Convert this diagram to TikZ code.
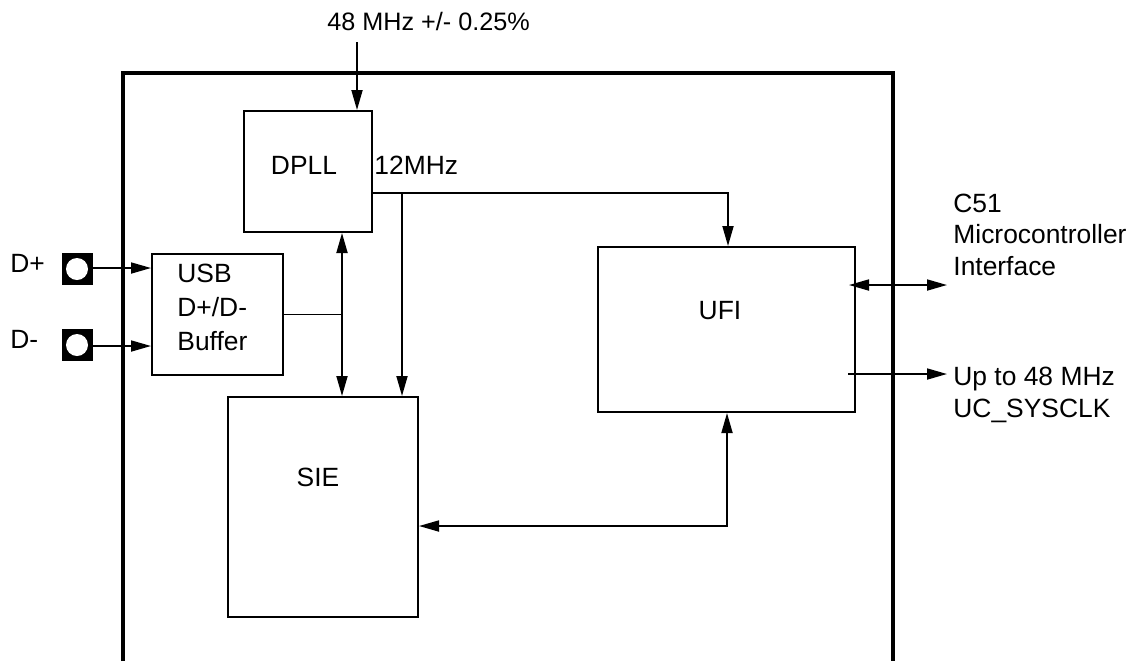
\documentclass[tikz,border=0pt]{standalone}
\usepackage{fontspec}
\setmainfont{Liberation Sans}
\usetikzlibrary{arrows.meta}
\begin{document}
\begin{tikzpicture}[x=0.5pt,y=-0.5pt,
  blk/.style={draw, line width=1pt, inner sep=0pt},
  ln/.style={line width=0.9pt},
  arr/.style={line width=0.9pt, -{Triangle[length=10pt,width=5.5pt]}},
  arr2/.style={line width=0.9pt, {Triangle[length=10pt,width=5.5pt]}-{Triangle[length=10pt,width=5.5pt]}},
  frame/.style={line width=1.6pt},
  txt/.style={inner sep=0pt, font=\fontsize{13.2}{15}\selectfont},
  pinsq/.style={fill=black, inner sep=0pt, minimum width=15.5pt, minimum height=16pt}]
\useasboundingbox (0,0) rectangle (1135,661);
% frame
\draw[frame] (123,661) -- (123,73) -- (893,73) -- (893,661);
% blocks
\node[blk, minimum width=64pt, minimum height=60.5pt] (dpll) at (308,171.5) {};
\node[blk, minimum width=65.5pt, minimum height=60.5pt] (usb) at (217.5,314.5) {};
\node[blk, minimum width=95pt, minimum height=110pt] (sie) at (323,507) {};
\node[blk, minimum width=128.5pt, minimum height=82.5pt] (ufi) at (726.5,329.5) {};
% texts in blocks
\node[txt, anchor=base] (tdpll) at (304,174) {DPLL};
\node[txt, anchor=base west] (t12) at (374,174) {12MHz};
\node[txt, anchor=base west] (tusb1) at (177,282) {USB};
\node[txt, anchor=base west] (tusb2) at (177,316) {D+/D-};
\node[txt, anchor=base west] (tusb3) at (177,350) {Buffer};
\node[txt, anchor=base] (tufi) at (720,319) {UFI};
\node[txt, anchor=base] (tsie) at (318,486) {SIE};
% pins
\node[pinsq] (pp) at (77,269) {};
\node[pinsq] (pm) at (77,345) {};
\fill[white] (pp.center) circle[radius=5.5pt];
\fill[white] (pm.center) circle[radius=5.5pt];
\node[txt, anchor=base west] (tdp) at (10,272) {D+};
\node[txt, anchor=base west] (tdm) at (10,348) {D-};
\draw[arr] ([yshift=0.5pt]pp.east) -- ([yshift=0.5pt]pp.east -| usb.west);
\draw[arr] ([yshift=-0.5pt]pm.east) -- ([yshift=-0.5pt]pm.east -| usb.west);
% top clock
\node[txt, anchor=base west, font=\fontsize{12.6}{15}\selectfont] (tclk) at (327,30) {48 MHz +/- 0.25\%};
\coordinate (clk) at (357,42);
\draw[arr] (clk) -- (clk |- dpll.north);
% 12 MHz distribution
\coordinate (j12) at (402,193);
\draw[arr] (dpll.east |- j12) -| ([xshift=0.75pt]ufi.north);
\draw[arr] (j12) -- (j12 |- sie.north);
% bus from buffer
\coordinate (bus) at (342,314.5);
\draw[ln] (usb.east) -- (bus);
\draw[arr2] (bus |- dpll.south) -- (bus |- sie.north);
% SIE <-> UFI
\coordinate (ret) at (727,526);
\draw[arr2] (sie.east |- ret) -| (ret |- ufi.south);
% right side
\coordinate (ia) at (849,285);
\coordinate (ib) at (947,285);
\draw[arr2] (ia) -- (ib);
\coordinate (oa) at (848,374);
\coordinate (ob) at (947,374);
\draw[arr] (oa) -- (ob);
\node[txt, anchor=base west] (tc1) at (953,212) {C51};
\node[txt, anchor=base west] (tc2) at (953,243) {Microcontroller};
\node[txt, anchor=base west] (tc3) at (953,275) {Interface};
\node[txt, anchor=base west] (to1) at (953,385) {Up to 48 MHz};
\node[txt, anchor=base west] (to2) at (953,417) {UC\_SYSCLK};
\end{tikzpicture}
\end{document}
